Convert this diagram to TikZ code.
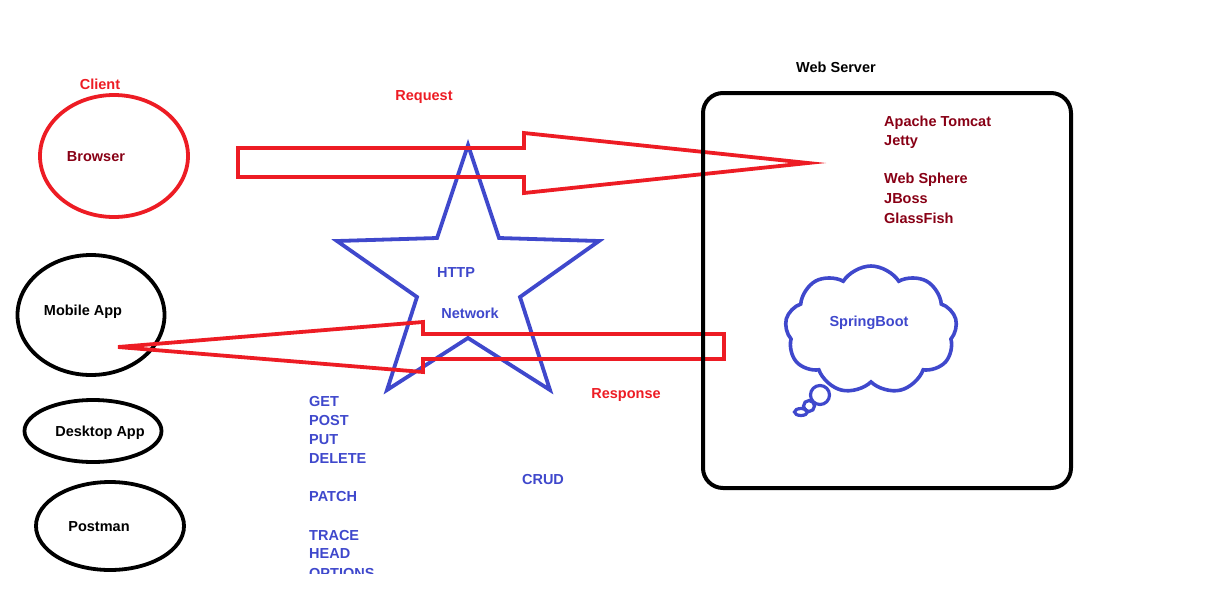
\documentclass[tikz,border=0pt]{standalone}
\usepackage{fontspec}
\setmainfont{Liberation Sans}
\usetikzlibrary{shapes.geometric,shapes.symbols}
\definecolor{paintred}{HTML}{ED1C24}
\definecolor{paintblue}{HTML}{3F48CC}
\definecolor{paintdark}{HTML}{880015}
\tikzset{
  lbl/.style={font=\fontsize{14.5}{19}\selectfont\bfseries, inner sep=0pt},
  clientbox/.style={ellipse, draw=black, line width=3.8pt, inner sep=0pt},
  blockarrow/.style={draw=paintred, line width=3.8pt, line join=miter}
}
\begin{document}
\begin{tikzpicture}[x=1pt, y=-1pt]
  \useasboundingbox (0,0) rectangle (1221,603);
  % clients
  \node[clientbox, draw=paintred, minimum width=148pt, minimum height=122pt] (browser) at (114,156) {};
  \node[clientbox, minimum width=147pt, minimum height=120pt] (mobile) at (91,315) {};
  \node[clientbox, minimum width=137pt, minimum height=62pt] (desktop) at (93,431) {};
  \node[clientbox, minimum width=148pt, minimum height=88pt] (postman) at (110,526) {};
  \node[lbl, paintred] (client) at (100,84) {Client};
  \node[lbl, paintdark] (browsertxt) at (96,157) {Browser};
  \node[lbl] (mobiletxt) at (83,312) {Mobile App};
  \node[lbl] (desktoptxt) at (100,433) {Desktop App};
  \node[lbl] (postmantxt) at (99,527) {Postman};

  % network star
  \draw[paintblue, line width=3.8pt, line join=miter]
    (468,145) -- (499,238) -- (599,241) -- (520,297) -- (550,390) -- (468,338)
    -- (387,390) -- (417,297) -- (337,241) -- (437,238) -- cycle;
  \node[lbl, paintblue] (http) at (456,273) {HTTP};
  \node[lbl, paintblue] (network) at (470,313) {Network};

  % request / response arrows
  \draw[blockarrow] (238,148) -- (524,148) -- (524,133) -- (808,163) -- (524,193)
    -- (524,177) -- (238,177) -- cycle;
  \draw[blockarrow] (724,334) -- (423,334) -- (423,322) -- (118,347) -- (423,372)
    -- (423,359) -- (724,359) -- cycle;
  \node[lbl, paintred] (request) at (424,97) {Request};
  \node[lbl, paintred] (response) at (626,395) {Response};

  % web server
  \node[draw=black, line width=4pt, rounded corners=20pt, minimum width=368pt,
    minimum height=395pt] (server) at (887,290.5) {};
  \node[lbl] (servertxt) at (836,67) {Web Server};
  \foreach \s/\y [count=\k] in {Apache Tomcat/123, Jetty/142, Web Sphere/180,
      JBoss/199, GlassFish/218}
    \node[lbl, paintdark, anchor=west] (srv\k) at (884,\y) {\s};

  % spring boot cloud
  \node[cloud, draw=paintblue, line width=3.6pt, cloud puffs=9, cloud puff arc=115,
    aspect=1.35, minimum width=172pt, minimum height=128pt] (spring) at (871,330) {};
  \node[lbl, paintblue] (springtxt) at (869,323) {SpringBoot};
  \draw[paintblue, line width=3.2pt] (820,395) circle (9.5pt);
  \draw[paintblue, line width=3.2pt] (809,406) circle (5.5pt);
  \draw[paintblue, line width=3.2pt] (801,412) ellipse (6.5pt and 3.5pt);

  % http methods
  \begin{scope}
    \clip (0,0) rectangle (1221,573);
    \foreach \m/\y [count=\k] in {GET/402, POST/421, PUT/440, DELETE/459, PATCH/497,
        TRACE/535, HEAD/554, OPTIONS/573}
      \node[lbl, paintblue, anchor=west] (verb\k) at (309,\y) {\m};
  \end{scope}
  \node[lbl, paintblue] (crud) at (543,479) {CRUD};
\end{tikzpicture}
\end{document}
